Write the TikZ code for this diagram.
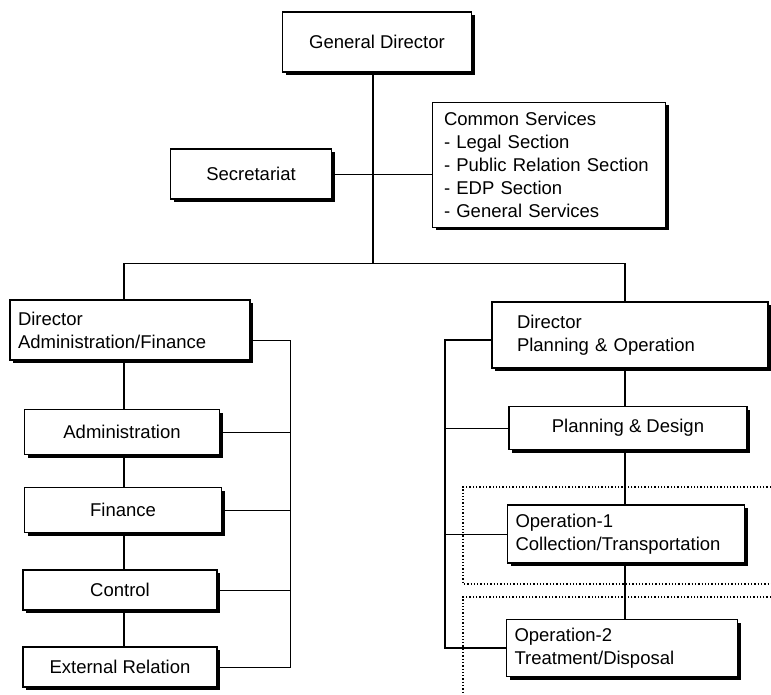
\documentclass[tikz,border=0pt]{standalone}
\usepackage{fontspec}
\setmainfont{Liberation Sans}
\usetikzlibrary{shadows}

\begin{document}
\begin{tikzpicture}[x=1pt,y=-1pt,
      unit/.style={draw,line width=1.2pt,fill=white,
        font=\fontsize{18.5}{23}\selectfont,
        drop shadow={shadow xshift=3pt,shadow yshift=-3pt,fill=black,opacity=1}},
      lunit/.style={unit,align=left,inner xsep=8pt},
      link/.style={line width=0.9pt},
      trunk/.style={line width=1.6pt},
      zone/.style={dotted,line width=1.3pt}]
      \useasboundingbox (0,0) rectangle (771,695);
      % top level
      \node[unit,minimum width=189,minimum height=60] (gd) at (377,42) {General Director};
      \node[unit,minimum width=161,minimum height=50] (sec) at (251,174) {Secretariat};
      \node[lunit,text width=210,minimum height=125,inner xsep=11.5pt] (cs) at (549,165) {Common Services\\- Legal Section\\- Public Relation Section\\- EDP Section\\- General Services};
      % directors
      \node[lunit,text width=224,minimum height=60] (dirA) at (130,330) {Director\\Administration/Finance};
      \node[lunit,text width=226,minimum height=66,inner xsep=25pt] (dirP) at (630,335) {Director\\Planning \& Operation};
      % administration / finance side
      \node[unit,minimum width=195,minimum height=45] (adm) at (122,432) {Administration};
      \node[unit,minimum width=197,minimum height=45] (fin) at (123,510) {Finance};
      \node[unit,minimum width=194,minimum height=40] (con) at (120,590) {Control};
      \node[unit,minimum width=194,minimum height=40] (ext) at (120,667) {External Relation};
      % planning / operation side
      \node[unit,minimum width=238,minimum height=43] (pd) at (628,428) {Planning \& Design};
      \node[lunit,text width=221,minimum height=58] (op1) at (626,534) {Operation-1\\Collection/Transportation};
      \node[lunit,text width=215,minimum height=57] (op2) at (622,648) {Operation-2\\Treatment/Disposal};
      \coordinate (mid) at (373,263);
      \coordinate (barL) at (124,263);
      \coordinate (barR) at (625,263);
      \coordinate (brA) at (290,340);
      \coordinate (brP) at (445,340);
      % connectors
      \draw[trunk] (gd.south -| mid) -- (mid);
      \draw[link] (sec.east) -- (sec.east -| cs.west);
      \draw[link] (barL) -- (barR);
      \draw[trunk] (barL) -- (barL |- dirA.north);
      \draw[trunk] (barR) -- (barR |- dirP.north);
      \foreach \a/\b in {dirA/adm,adm/fin,fin/con,con/ext}
        \draw[trunk] (\a.south -| barL) -- (\b.north -| barL);
      \foreach \a/\b in {dirP/pd,pd/op1,op1/op2}
        \draw[trunk] (\a.south -| barR) -- (\b.north -| barR);
      \draw[link] (dirA.east |- brA) -- (brA) -- (brA |- ext.east) -- (ext.east);
      \foreach \n in {adm,fin,con}
        \draw[link] (\n.east) -- (\n.east -| brA);
      \draw[trunk] (dirP.west |- brP) -- (brP) -- (brP |- op2.west) -- (op2.west);
      \foreach \n in {pd,op1}
        \draw[link] (\n.west) -- (\n.west -| brP);
      % operation zones
      \draw[zone] (771,487) -| (463,584) -- (771,584);
      \draw[zone] (771,597) -| (463,695);
\end{tikzpicture}
\end{document}
